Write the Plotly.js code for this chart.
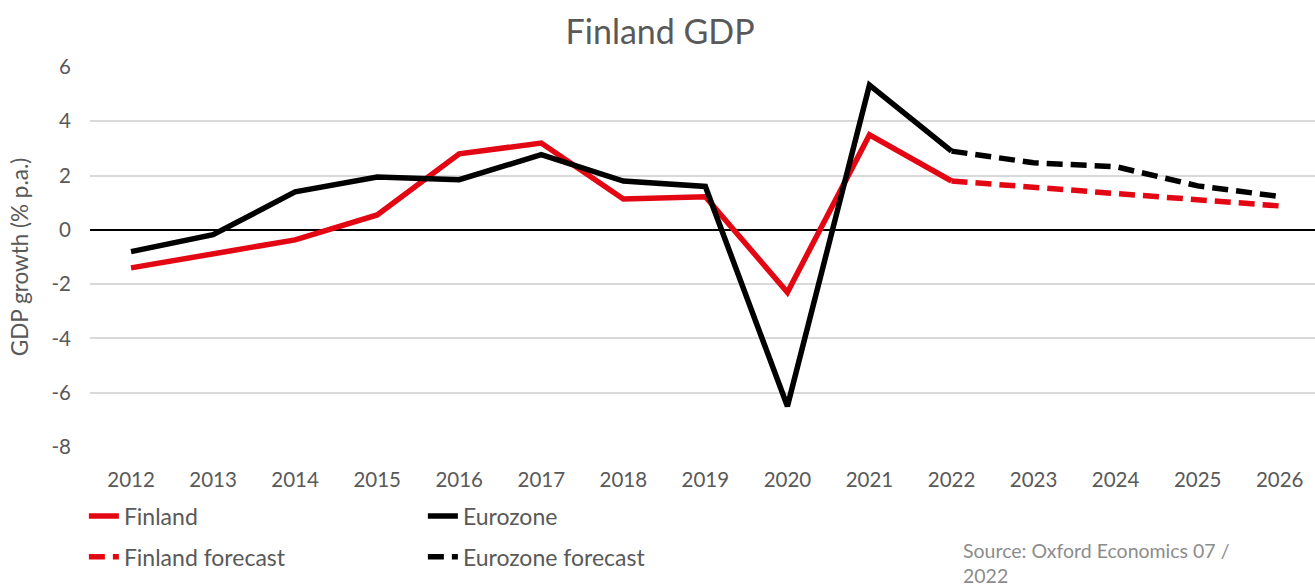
<!DOCTYPE html>
<html>
<head>
<meta charset="utf-8">
<script src="https://cdn.plot.ly/plotly-3.0.1.min.js"></script>
<style>
  html, body { margin: 0; padding: 0; background: #fff; }
  #chart { width: 1315px; height: 586px; }
</style>
</head>
<body>
<div id="chart"></div>
<script>
// data
const years = ["2012", "2013", "2014", "2015", "2016", "2017", "2018", "2019",
               "2020", "2021", "2022", "2023", "2024", "2025", "2026"];
const finland = [-1.4, -0.88, -0.37, 0.55, 2.8, 3.2, 1.14, 1.22, -2.3, 3.5, 1.8, 1.56, 1.33, 1.1, 0.88];
const eurozone = [-0.8, -0.18, 1.4, 1.95, 1.85, 2.77, 1.8, 1.6, -6.5, 5.33, 2.9, 2.47, 2.33, 1.62, 1.23];
const forecastFrom = 10; // index of 2022, forecast starts there
const yTicks = [-8, -6, -4, -2, 0, 2, 4, 6];
const yTickText = ["-8", "-6", "-4", "-2", "0", "2", "4", "6"];

const red = "#e30613";
const grey = "#595959";
const font = "Lato, 'Open Sans', sans-serif";

const actualYears = years.slice(0, forecastFrom + 1);
const fcYears = years.slice(forecastFrom);

const traces = [
    {
        x: actualYears, y: finland.slice(0, forecastFrom + 1),
        name: "Finland", type: "scatter", mode: "lines",
        line: { color: red, width: 5.5 }, legend: "legend"
    },
    {
        x: actualYears, y: eurozone.slice(0, forecastFrom + 1),
        name: "Eurozone", type: "scatter", mode: "lines",
        line: { color: "#000", width: 5.5 }, legend: "legend"
    },
    {
        x: fcYears, y: finland.slice(forecastFrom),
        name: "Finland forecast", type: "scatter", mode: "lines",
        line: { color: red, width: 5.5, dash: "16px,8px" }, legend: "legend2"
    },
    {
        x: fcYears, y: eurozone.slice(forecastFrom),
        name: "Eurozone forecast", type: "scatter", mode: "lines",
        line: { color: "#000", width: 5.5, dash: "16px,8px" }, legend: "legend2"
    }
];

const legendBase = {
    orientation: "h", xanchor: "left", yanchor: "middle",
    entrywidth: 294, entrywidthmode: "pixels",
    font: { family: font, size: 23, color: grey },
    bgcolor: "rgba(0,0,0,0)", traceorder: "normal"
};

Plotly.newPlot("chart", traces, {
    width: 1315, height: 586,
    paper_bgcolor: "#fff", plot_bgcolor: "#fff",
    margin: { l: 90, r: 0, t: 67, b: 139 },
    font: { family: font, color: grey },
    title: {
        text: "Finland GDP",
        font: { family: font, size: 34, color: grey },
        x: 0.502, xanchor: "center", y: 0.945, yanchor: "middle"
    },
    xaxis: {
        type: "category",
        range: [-0.5, 14.43],
        showgrid: false, zeroline: false, showline: false,
        ticks: "", tickfont: { size: 20.5, color: grey },
        ticklabelstandoff: 18
    },
    yaxis: {
        range: [-8, 6],
        tickmode: "array", tickvals: yTicks, ticktext: yTickText,
        gridcolor: "#d9d9d9", gridwidth: 1.5,
        zeroline: true, zerolinecolor: "#000", zerolinewidth: 1.5,
        ticks: "", tickfont: { size: 20.5, color: grey },
        ticklabelstandoff: 18,
        title: { text: "GDP growth (% p.a.)", font: { size: 22.5, color: grey }, standoff: 16 }
    },
    showlegend: true,
    legend: Object.assign({}, legendBase, { x: -0.005, y: -0.182 }),
    legend2: Object.assign({}, legendBase, { x: -0.005, y: -0.289 }),
    annotations: [{
        text: "Source: Oxford Economics 07 /<br>2022",
        xref: "paper", yref: "paper",
        x: (961 - 90) / 1225, y: -0.237,
        xanchor: "left", yanchor: "top", align: "left",
        showarrow: false,
        font: { family: font, size: 19.5, color: "#8c8c8c" }
    }]
}, { displayModeBar: false });
</script>
</body>
</html>
